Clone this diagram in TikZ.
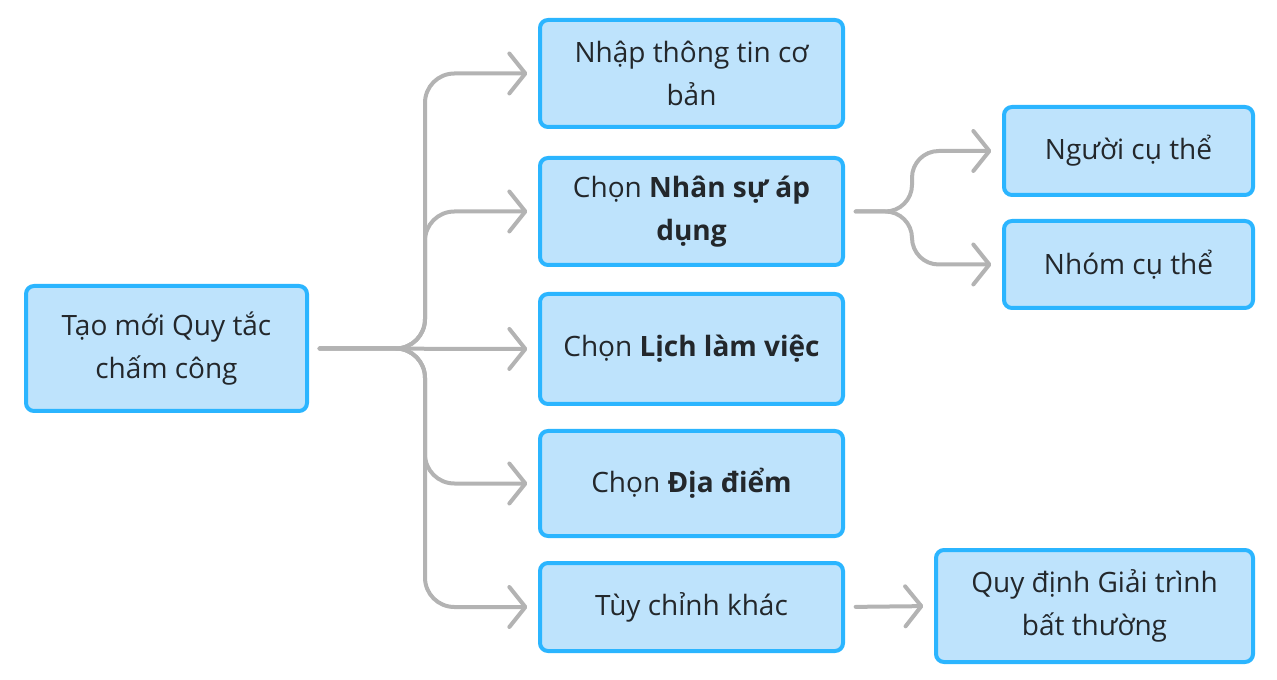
\documentclass[tikz,border=0pt]{standalone}
\usepackage{fontspec}
\setmainfont{Open Sans}
\usetikzlibrary{arrows.meta,positioning}
\definecolor{boxblue}{HTML}{2BB5FF}
\definecolor{boxfill}{HTML}{BEE3FC}
\definecolor{linkgray}{HTML}{B3B3B3}
\definecolor{textdark}{HTML}{23272B}
\tikzset{main node/.style={rectangle,rounded corners=6pt,draw=boxblue,fill=boxfill,line width=3pt,
    align=center,text=textdark,inner sep=0pt,font=\fontsize{21pt}{32pt}\selectfont},
  link/.style={draw=linkgray,line width=3pt,line cap=round,rounded corners=22pt,
    shorten <=8pt,shorten >=8pt,-{Straight Barb[round,length=12pt,width=30pt]}},}

\begin{document}
\begin{tikzpicture}[x=0.75pt,y=-0.75pt]
    \useasboundingbox (0,0) rectangle (1277,680);
    \node[main node,minimum width=210.75pt,minimum height=93.75pt] (root) at (166.5,348.5) {Tạo mới Quy tắc\\chấm công};
    \node[main node,minimum width=227.25pt,minimum height=80.25pt] (info) at (691.5,73.5) {Nhập thông tin cơ\\bản};
    \node[main node,minimum width=227.25pt,minimum height=80.25pt] (staff) at (691.5,211.5) {Chọn \textbf{Nhân sự áp}\\\textbf{dụng}};
    \node[main node,minimum width=227.25pt,minimum height=82.5pt] (sched) at (691.5,349) {Chọn \textbf{Lịch làm việc}};
    \node[main node,minimum width=227.25pt,minimum height=78.75pt] (place) at (691.5,483.5) {Chọn \textbf{Địa điểm}};
    \node[main node,minimum width=227.25pt,minimum height=66pt] (other) at (691.5,607) {Tùy chỉnh khác};
    \node[main node,minimum width=186.75pt,minimum height=66pt] (person) at (1128.5,151) {Người cụ thể};
    \node[main node,minimum width=186.75pt,minimum height=65.25pt] (group) at (1128.5,264.5) {Nhóm cụ thể};
    \node[main node,minimum width=237.75pt,minimum height=84pt] (explain) at (1094.5,606) {Quy định Giải trình\\bất thường};

    \coordinate (fork) at (425,348.5);
    \coordinate (fork2) at (912,211.5);

    % root branches
    \draw[link] (root.east) -- (fork) |- (info.west);
    \draw[link] (root.east) -- (fork) |- (staff.west);
    \draw[link] (root.east) -- (sched.west);
    \draw[link] (root.east) -- (fork) |- (place.west);
    \draw[link] (root.east) -- (fork) |- (other.west);
    %% staff branches
    \draw[link,rounded corners=20pt] (staff.east) -- (fork2) |- (person.west);
    \draw[link,rounded corners=20pt] (staff.east) -- (fork2) |- (group.west);
    \draw[link] (other.east) -- (explain.west);
\end{tikzpicture}
\end{document}
